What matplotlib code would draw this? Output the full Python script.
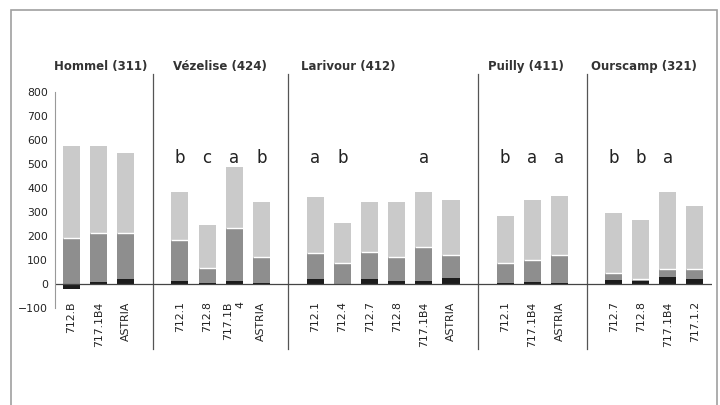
import numpy as np
import matplotlib.pyplot as plt
from matplotlib.patches import Rectangle

plt.rcParams['font.family'] = ['DejaVu Sans']

groups = ["Hommel (311)", "Vézelise (424)", "Larivour (412)", "Puilly (411)", "Ourscamp (321)"]
labels = [
    ["712.B", "717.1B4", "ASTRIA"],
    ["712.1", "712.8", "717.1B\n4", "ASTRIA"],
    ["712.1", "712.4", "712.7", "712.8", "717.1B4", "ASTRIA"],
    ["712.1", "717.1B4", "ASTRIA"],
    ["712.7", "712.8", "717.1B4", "717.1.2"],
]
# bottom (black) part, middle (dark grey) top, total height
black = [
    [-22, 10, 22],
    [12, 5, 12, 5],
    [22, -5, 20, 12, 12, 25],
    [5, 10, 5],
    [15, 12, 28, 22],
]
middle = [
    [192, 213, 213],
    [183, 67, 233, 114],
    [129, 89, 133, 113, 154, 121],
    [89, 100, 121],
    [46, 21, 63, 63],
]
total = [
    [575, 575, 546],
    [385, 246, 489, 343],
    [364, 254, 343, 342, 385, 350],
    [283, 350, 367],
    [297, 267, 385, 326],
]
letters = [
    ["", "", ""],
    ["b", "c", "a", "b"],
    ["a", "b", "", "", "a", ""],
    ["b", "a", "a"],
    ["b", "b", "a", ""],
]
# title shift left of the first bar, in bar slots
title_shift = [0.66, 0.26, 0.52, 0.63, 0.85]

fig = plt.figure(figsize=(7.2, 4.05), dpi=100)
fig.patches.append(Rectangle((0.0153, -0.05), 0.981, 1.025, transform=fig.transFigure,
                             fill=False, edgecolor="#a0a0a0", linewidth=1.2))
ax = fig.add_axes([0.0764, 0.2395, 0.9125, 0.5333])

c_black = "#1c1c1c"
c_mid = "#8e8e8e"
c_light = "#cacaca"
w = 0.63

pos = 0
seps = []
for g in range(len(groups)):
    n = len(labels[g])
    xs = np.arange(pos, pos + n)
    b = np.array(black[g], dtype=float)
    m = np.array(middle[g], dtype=float)
    t = np.array(total[g], dtype=float)
    base = np.maximum(b, 0)
    ax.bar(xs, b, w, color=c_black, edgecolor="none")
    ax.bar(xs, m - base, w, bottom=base, color=c_mid, edgecolor="none")
    ax.bar(xs, t - m, w, bottom=m, color=c_light, edgecolor="none")
    ax.bar(xs, 0, w, bottom=m, edgecolor="white", linewidth=1.0)
    for x, lab, let in zip(xs, labels[g], letters[g]):
        ax.text(x, -72, lab, rotation=90, ha="center", va="top", fontsize=7.8,
                multialignment="right", color="#222222", clip_on=False)
        if let:
            ax.text(x, 525, let, ha="center", va="center", fontsize=12, color="#222222")
    ax.text(xs[0] - title_shift[g], 908, groups[g], ha="left", va="center", fontsize=8.5,
            fontweight="bold", color="#333333", clip_on=False)
    pos += n + 1
    if g < len(groups) - 1:
        seps.append(pos - 1)

for s in seps:
    ax.plot([s, s], [875, -270], color="#555555", linewidth=0.9, clip_on=False)

ax.axhline(0, color="#444444", linewidth=0.9)
ax.set_xlim(-0.61, 23.63)
ax.set_ylim(-100, 800)
ax.set_yticks(np.arange(-100, 801, 100))
ax.tick_params(axis="y", length=0, labelsize=7.8, pad=5, labelcolor="#222222")
ax.set_xticks([])
for sp in ["top", "right", "bottom"]:
    ax.spines[sp].set_visible(False)
ax.spines["left"].set_color("#999999")

fig.savefig("out.png", dpi=100)
